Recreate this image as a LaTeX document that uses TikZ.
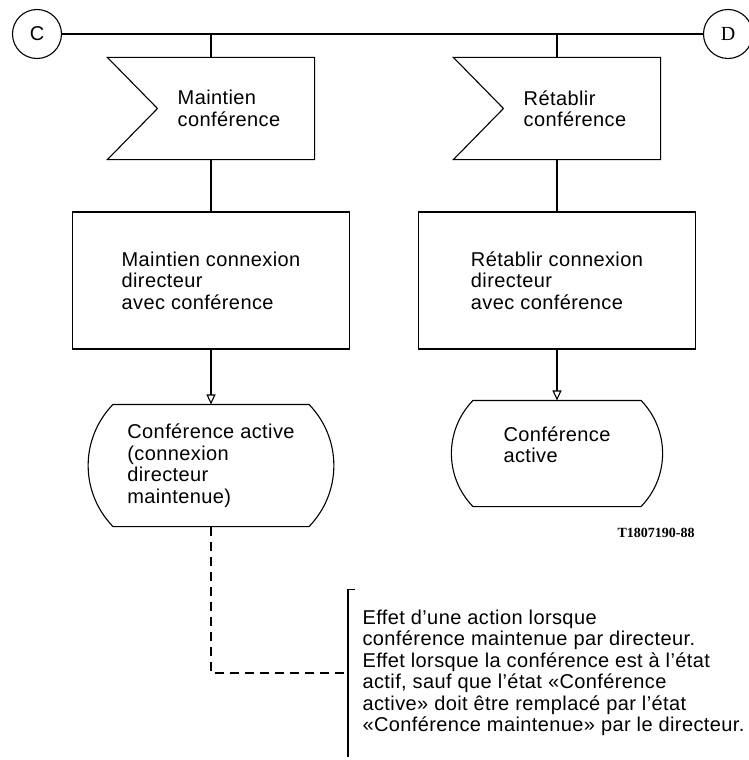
\documentclass[tikz,border=0pt]{standalone}
\usepackage{fontspec}
\setmainfont{Liberation Sans}[LetterSpace=2.0]
\newfontfamily\codefont{Liberation Serif}
\usetikzlibrary{arrows.meta}
\tikzset{>={Triangle[open,length=10pt,width=9pt]}}
\tikzset{
  sigbox/.style={minimum width=206pt, minimum height=101pt, inner sep=0pt},
  procbox/.style={draw, minimum width=277pt, minimum height=137pt, align=left, inner sep=0pt},
  statebox/.style={inner sep=0pt},
  lbl/.style={align=left, inner sep=0pt},
  conn/.style={draw, circle, minimum size=49pt, inner sep=0pt},
}

\begin{document}
\begin{tikzpicture}[x=1pt, y=-1pt, line width=1.1pt, font=\fontsize{20}{21.5}\selectfont]
\useasboundingbox (0,0) rectangle (749,760);

% connectors C and D
\node[conn] (c) at (37,34) {C};
\node[conn] (d) at (728,34) {\codefont D};
\draw (c) -- (d);

% left branch
\node[sigbox] (sig1) at (211,108.5) {};
\draw (sig1.north west) -- (sig1.north east) -- (sig1.south east) -- (sig1.south west)
  -- ([xshift=50pt]sig1.west) -- cycle;
\node[lbl] (sig1txt) at ([xshift=18pt]sig1.center) {Maintien\\conférence};

\node[procbox] (proc1) at (211,280.5) {Maintien connexion\\directeur\\avec conférence};

\node[statebox, minimum width=195pt, minimum height=121pt] (st1) at (211,465.5) {};
\draw (st1.north west) -- (st1.north east) to[bend left=44] (st1.south east)
  -- (st1.south west) to[bend left=44] (st1.north west);
\node[lbl] (st1txt) at (st1.center) {Conférence active\\(connexion\\directeur\\maintenue)};

% right branch
\node[sigbox] (sig2) at (557,108.5) {};
\draw (sig2.north west) -- (sig2.north east) -- (sig2.south east) -- (sig2.south west)
  -- ([xshift=50pt]sig2.west) -- cycle;
\node[lbl] (sig2txt) at ([xshift=18pt]sig2.center) {Rétablir\\conférence};

\node[procbox] (proc2) at (557,280.5) {Rétablir connexion\\directeur\\avec conférence};

\node[statebox, minimum width=167pt, minimum height=105pt] (st2) at (557,453.5) {};
\draw (st2.north west) -- (st2.north east) to[bend left=44] (st2.south east)
  -- (st2.south west) to[bend left=44] (st2.north west);
\node[lbl] (st2txt) at ([yshift=9pt]st2.center) {Conférence\\active};

\draw (c -| sig1.north) -- (sig1.north);
\draw (sig1.south) -- (proc1.north);
\draw[->] (proc1.south) -- (st1.north);
\draw (c -| sig2.north) -- (sig2.north);
\draw (sig2.south) -- (proc2.north);
\draw[->] (proc2.south) -- (st2.north);

\node[inner sep=0pt, font=\codefont\bfseries\fontsize{14}{16}\selectfont] (ref) at (656,533) {T1807190-88};

% comment
\node[lbl, anchor=west, minimum height=166pt, inner xsep=14pt] (note) at (348,673)
  {Effet d’une action lorsque\\conférence maintenue par directeur.\\Effet lorsque la conférence est à l’état\\actif, sauf que l’état «Conférence\\active» doit être remplacé par l’état\\«Conférence maintenue» par le directeur.};
\draw ([xshift=7pt]note.north west) -- (note.north west) -- (note.south west);
\draw[dash pattern=on 9pt off 6pt] (st1.south) |- (note.west);

\end{tikzpicture}
\end{document}
